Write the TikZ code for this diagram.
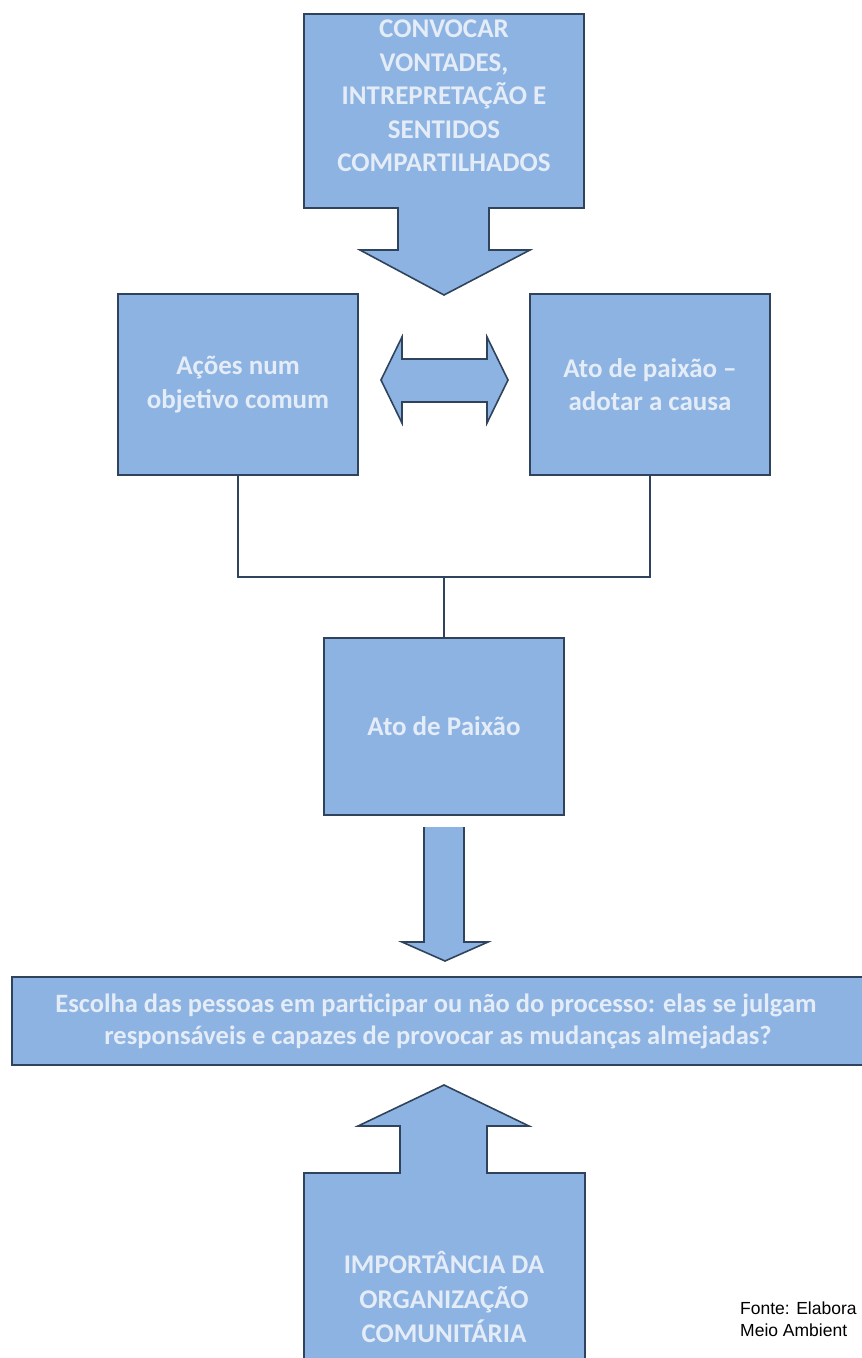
\documentclass[tikz,border=0pt]{standalone}
\usepackage{fontspec}
\setmainfont{Carlito}
\newfontfamily\arialfont{Liberation Sans}
\definecolor{boxfill}{RGB}{141,179,226}
\definecolor{boxline}{RGB}{47,68,92}
\definecolor{boxtext}{RGB}{228,236,247}
\tikzset{
  box/.style={draw=boxline, fill=boxfill, line width=1.6pt, inner sep=0pt,
    text=boxtext, font=\bfseries\fontsize{27}{33.5}\selectfont, align=center},
  bigarrow/.style={draw=boxline, fill=boxfill, line width=1.6pt, line join=miter},
  lbl/.style={text=boxtext, font=\bfseries\fontsize{27}{33.5}\selectfont, align=center, inner sep=0pt},
  conn/.style={draw=boxline, line width=1.6pt}
}
\begin{document}
\begin{tikzpicture}[x=1pt,y=-1pt]
\useasboundingbox (0,0) rectangle (862,1358);
% top arrow-callout
\draw[bigarrow] (304,14) -- (584,14) -- (584,208) -- (489,208) -- (489,250) -- (530,250)
  -- (444,295) -- (360,250) -- (398,250) -- (398,208) -- (304,208) -- cycle;
\node[lbl] (top) at (444,96) {CONVOCAR\\VONTADES,\\INTREPRETAÇÃO E\\SENTIDOS\\COMPARTILHADOS};
% middle boxes
\node[box, minimum width=240pt, minimum height=181pt] (L) at (238,384.5) {Ações num\\objetivo comum};
\node[box, minimum width=240pt, minimum height=181pt] (R) at (650,384.5) {Ato de paixão –\\adotar a causa};
% double arrow
\draw[bigarrow] (381,380) -- (402,337) -- (402,359) -- (487,359) -- (487,337) -- (508,380)
  -- (487,423) -- (487,402) -- (402,402) -- (402,423) -- cycle;
% centre box
\node[box, minimum width=240pt, minimum height=177pt] (A) at (444,726.5) {Ato de Paixão};
% connectors
\coordinate (J) at (444,577);
\draw[conn] (L.south) |- (J) -| (R.south);
\draw[conn] (J) -- (A.north);
% down arrow (open top)
\fill[boxfill] (424,827) -- (424,942) -- (402,942) -- (445,961) -- (488,942) -- (464,942) -- (464,827) -- cycle;
\draw[boxline, line width=1.6pt, line join=miter] (424,827) -- (424,942) -- (402,942) -- (445,961) -- (488,942) -- (464,942) -- (464,827);
% wide box
\node[box, minimum width=852pt, minimum height=88pt, font=\bfseries\fontsize{26.5}{32}\selectfont] (W) at (438,1021) {\hspace*{-4pt}Escolha das pessoas em participar ou não do processo: elas se julgam\\responsáveis e capazes de provocar as mudanças almejadas?};
% bottom arrow-callout
\draw[bigarrow] (304,1362) -- (304,1173) -- (400,1173) -- (400,1126) -- (358,1126) -- (444,1085)
  -- (529,1126) -- (487,1126) -- (487,1173) -- (585,1173) -- (585,1362);
\node[lbl, font=\bfseries\fontsize{27}{34.5}\selectfont] (bot) at (444,1297) {IMPORTÂNCIA DA\\ORGANIZAÇÃO\\COMUNITÁRIA};
% source note
\node[anchor=west, inner sep=0pt, align=left, font=\arialfont\fontsize{17.5}{22}\selectfont] (src) at (740,1319) {Fonte: Elabora\\Meio Ambient};
\end{tikzpicture}
\end{document}
